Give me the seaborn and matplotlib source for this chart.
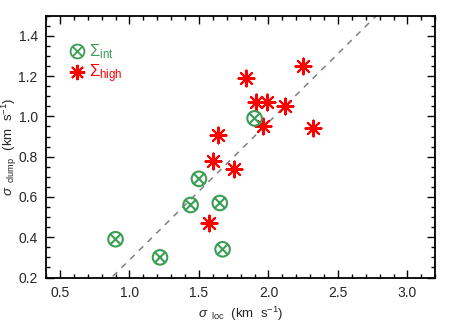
import numpy as np
import pandas as pd
import matplotlib
matplotlib.use("Agg")
import matplotlib.pyplot as plt
from matplotlib.path import Path
from matplotlib.lines import Line2D
import seaborn as sns

# ---- data ----
int_x = [0.90, 1.22, 1.44, 1.50, 1.65, 1.67, 1.90]
int_y = [0.39, 0.30, 0.56, 0.69, 0.57, 0.34, 0.99]

high_x = [1.57, 1.60, 1.64, 1.75, 1.84, 1.91, 1.99, 1.96, 2.12, 2.25, 2.32]
high_y = [0.47, 0.78, 0.91, 0.74, 1.19, 1.07, 1.07, 0.95, 1.05, 1.25, 0.94]

line_slope = 0.683
line_intercept = -0.396

xlim = (0.4, 3.2)
ylim = (0.2, 1.5)
xticks = [0.5, 1.0, 1.5, 2.0, 2.5, 3.0]
yticks = [0.2, 0.4, 0.6, 0.8, 1.0, 1.2, 1.4]

green = "#3a9e55"
red = "#ff0000"

sns.set_theme(style="ticks")
plt.rcParams["font.family"] = ["Liberation Sans", "DejaVu Sans"]
plt.rcParams["mathtext.fontset"] = "custom"
plt.rcParams["mathtext.rm"] = "Liberation Sans"
plt.rcParams["mathtext.it"] = "Liberation Sans:italic"
plt.rcParams["mathtext.sf"] = "Liberation Sans"

fig = plt.figure(figsize=(4.58, 3.27), dpi=100)
ax = fig.add_axes([46 / 458, 1 - 277.5 / 327, (435.3 - 46) / 458, (277.5 - 15.7) / 327])

# circle-with-x marker
circ = Path.unit_circle()
d = 0.7071
cross = Path([[-d, -d], [d, d], [-d, d], [d, -d]],
             [Path.MOVETO, Path.LINETO, Path.MOVETO, Path.LINETO])
otimes = Path.make_compound_path(circ, cross)
aster = (8, 2, 0)

df_int = pd.DataFrame({"x": int_x, "y": int_y})
df_high = pd.DataFrame({"x": high_x, "y": high_y})

# dashed reference line
lx = np.array(xlim)
ax.plot(lx, line_slope * lx + line_intercept, ls=(0, (4, 4)), color="gray", lw=1.1, zorder=1)

sns.scatterplot(data=df_high, x="x", y="y", ax=ax, marker=aster, s=130,
                color=red, edgecolor=red, linewidth=1.5, zorder=3)
sns.scatterplot(data=df_int, x="x", y="y", ax=ax, marker=otimes, s=110,
                facecolor="none", edgecolor=green, linewidth=1.5, zorder=4)

ax.set_xlim(*xlim)
ax.set_ylim(*ylim)
ax.set_xticks(xticks)
ax.set_yticks(yticks)
ax.set_xticklabels([f"{v:.1f}" for v in xticks])
ax.set_yticklabels([f"{v:.1f}" for v in yticks])
ax.set_xticks(np.arange(0.4, 3.21, 0.1), minor=True)
ax.set_yticks(np.arange(0.2, 1.501, 0.05), minor=True)
ax.tick_params(which="both", direction="in", top=True, right=True, color="black", width=1.0)
ax.tick_params(which="major", length=6, labelsize=10, pad=6)
ax.tick_params(which="minor", length=3)
for s in ax.spines.values():
    s.set_color("black")
    s.set_linewidth(1.3)

ax.set_xlabel(r"$\sigma_{\ \ \mathregular{loc}}$  (km  s$^{-1}$)", fontsize=9.5)
ax.set_ylabel(r"$\sigma_{\ \ \mathregular{clump}}$  (km  s$^{-1}$)", fontsize=9.5)
ax.xaxis.set_label_coords(0.5, -(305 - 277.5) / 261.8)
ax.yaxis.set_label_coords(-(46 - 19) / 389.3, 0.5)

handles = [
    Line2D([], [], ls="none", marker=otimes, markersize=10, markerfacecolor="none",
           markeredgecolor=green, markeredgewidth=1.3),
    Line2D([], [], ls="none", marker=aster, markersize=11, color=red,
           markeredgewidth=1.5),
]
leg = ax.legend(handles, [r"$\Sigma_{\mathregular{int}}$", r"$\Sigma_{\mathregular{high}}$"],
                loc="upper left", bbox_to_anchor=(0.015, 0.955), frameon=False,
                fontsize=12, handletextpad=0.15, labelspacing=0.1, handlelength=1.2)
for t, c in zip(leg.get_texts(), [green, red]):
    t.set_color(c)

fig.savefig("out.png", dpi=100)
